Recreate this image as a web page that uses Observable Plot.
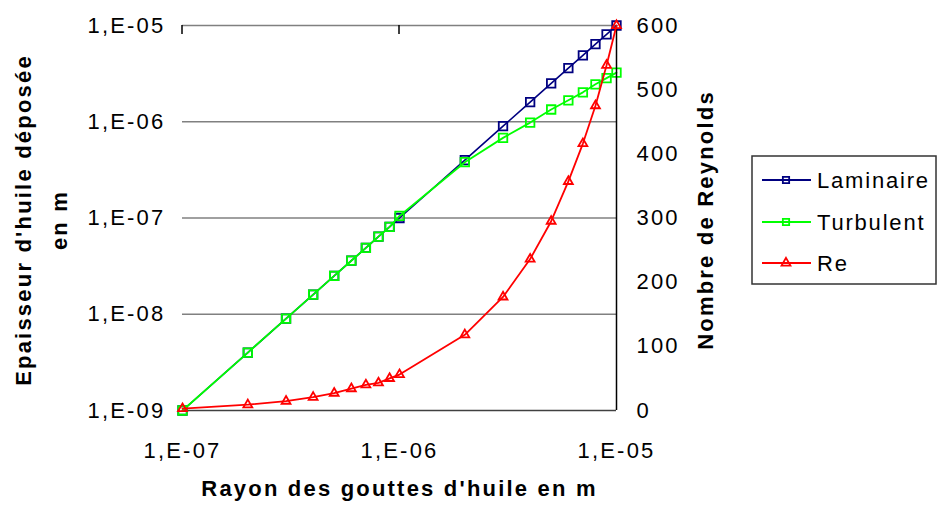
<!DOCTYPE html>
<html><head><meta charset="utf-8">
<script src="https://cdn.jsdelivr.net/npm/d3@7"></script>
<script src="https://cdn.jsdelivr.net/npm/@observablehq/plot@0.6"></script>
<style>
html,body{margin:0;padding:0;background:#fff;}
#chart{position:relative;width:943px;height:508px;}
#chart svg{position:absolute;left:0;top:0;}
</style></head><body><div id="chart"></div>
<script>
// ---- data ----
const radius = [1e-7, 2e-7, 3e-7, 4e-7, 5e-7, 6e-7, 7e-7, 8e-7, 9e-7, 1e-6,
                2e-6, 3e-6, 4e-6, 5e-6, 6e-6, 7e-6, 8e-6, 9e-6, 1e-5];
const laminaire = [1e-9, 4e-9, 9e-9, 1.6e-8, 2.5e-8, 3.6e-8, 4.9e-8, 6.4e-8, 8.1e-8, 1e-7,
                   4e-7, 9e-7, 1.6e-6, 2.5e-6, 3.6e-6, 4.9e-6, 6.4e-6, 8.1e-6, 1e-5];
const turbulent = [1e-9, 4e-9, 9e-9, 1.6e-8, 2.5e-8, 3.6e-8, 4.9e-8, 6.4e-8, 8.1e-8, 1.05e-7,
                   3.8e-7, 6.8e-7, 9.8e-7, 1.34e-6, 1.67e-6, 2.02e-6, 2.45e-6, 2.84e-6, 3.24e-6];
const reynolds = [3, 9, 14.5, 20.7, 27, 34, 40, 43, 50, 56,
                  118, 177, 236, 295, 357, 416, 475, 538, 600];

const xTicks = [1e-7, 1e-6, 1e-5];
const xLabels = ["1,E-07", "1,E-06", "1,E-05"];
const yLeftTicks = [1e-9, 1e-8, 1e-7, 1e-6, 1e-5];
const yLeftLabels = ["1,E-09", "1,E-08", "1,E-07", "1,E-06", "1,E-05"];
const yRightTicks = [0, 100, 200, 300, 400, 500, 600];

const seriesNames = ["Laminaire", "Turbulent", "Re"];
const seriesColors = ["#000080", "#00ff00", "#ff0000"];
const seriesSymbols = ["square", "square", "triangle"];

const xTitle = "Rayon des gouttes d'huile en m";
const yLeftTitle = ["Epaisseur d'huile déposée", "en m"];
const yRightTitle = "Nombre de Reynolds";

// ---- layout ----
const W = 943, H = 508;
const M = {top: 25, right: 327, bottom: 98, left: 182};
const FONT = "'Liberation Sans', Arial, sans-serif";
const FS = 22;
const baseStyle = {fontFamily: FONT, fontSize: FS + "px", letterSpacing: "2.2px", overflow: "visible", color: "#000"};

const rows = radius.map((r, i) => ({r, lam: laminaire[i], turb: turbulent[i], re: reynolds[i]}));

const p1 = Plot.plot({
  width: W, height: H,
  marginTop: M.top, marginRight: M.right, marginBottom: M.bottom, marginLeft: M.left,
  style: {...baseStyle, background: "white"},
  x: {type: "log", domain: [1e-7, 1e-5]},
  y: {type: "log", domain: [1e-9, 1e-5]},
  marks: [
    Plot.ruleY(yLeftTicks.slice(1), {stroke: "#808080", strokeWidth: 1.5}),
    Plot.ruleY([yLeftTicks[0]], {stroke: "#404040", strokeWidth: 1.5}),
    Plot.axisY({ticks: yLeftTicks, tickFormat: d => yLeftLabels[yLeftTicks.indexOf(d)],
                tickSize: 0, tickPadding: 17, label: null, fontSize: FS}),
    Plot.axisX({ticks: xTicks, tickFormat: d => xLabels[xTicks.indexOf(d)],
                tickSize: 0, tickPadding: 32, label: null, fontSize: FS}),
    Plot.line(rows, {x: "r", y: "lam", stroke: seriesColors[0], strokeWidth: 1.6}),
    Plot.dot(rows, {x: "r", y: "lam", symbol: seriesSymbols[0], r: 4.8, stroke: seriesColors[0], strokeWidth: 1.8, fill: "none"}),
    Plot.line(rows, {x: "r", y: "turb", stroke: seriesColors[1], strokeWidth: 1.8}),
    Plot.dot(rows, {x: "r", y: "turb", symbol: seriesSymbols[1], r: 4.8, stroke: seriesColors[1], strokeWidth: 1.8, fill: "none"}),
    Plot.text([yLeftTitle[0]], {frameAnchor: "left", textAnchor: "middle", rotate: -90, dx: -159, dy: 2, fontWeight: "bold", fontSize: FS}),
    Plot.text([yLeftTitle[1]], {frameAnchor: "left", textAnchor: "middle", rotate: -90, dx: -123, dy: 2, fontWeight: "bold", fontSize: FS}),
    Plot.text([xTitle], {frameAnchor: "bottom", dy: 85, fontWeight: "bold", fontSize: FS})
  ]
});

const p2 = Plot.plot({
  width: W, height: H,
  marginTop: M.top, marginRight: M.right, marginBottom: M.bottom, marginLeft: M.left,
  style: {...baseStyle, background: "transparent"},
  x: {type: "log", domain: [1e-7, 1e-5], axis: null},
  y: {domain: [0, 600], axis: null},
  marks: [
    Plot.ruleX([xTicks[2]], {stroke: "#000", strokeWidth: 1.5}),
    Plot.axisY({anchor: "right", ticks: yRightTicks, tickSize: 0, tickPadding: 20, label: null, fontSize: FS}),
    Plot.line(rows, {x: "r", y: "re", stroke: seriesColors[2], strokeWidth: 1.8}),
    Plot.dot(rows, {x: "r", y: "re", symbol: seriesSymbols[2], r: 3.3, stroke: seriesColors[2], strokeWidth: 1.8, fill: "none"}),
    Plot.text([yRightTitle], {frameAnchor: "right", textAnchor: "middle", rotate: -90, dx: 89, dy: 2, fontWeight: "bold", fontSize: FS})
  ]
});

const chart = document.getElementById("chart");
chart.appendChild(p1);
chart.appendChild(p2);

// small tick marks hanging from the top edge at the x ticks
const xs = p1.scale("x");
const s1 = d3.select(p1);
xTicks.slice(0, 2).forEach(t => {
  const px = xs.apply(t);
  s1.append("line").attr("x1", px).attr("x2", px).attr("y1", M.top).attr("y2", M.top + 9)
    .attr("stroke", "#000").attr("stroke-width", 1.5);
});

// legend
const leg = d3.select(chart).append("svg").attr("width", W).attr("height", H)
  .style("font-family", FONT).style("font-size", FS + "px").style("letter-spacing", "1.8px");
leg.append("rect").attr("x", 752).attr("y", 156).attr("width", 184).attr("height", 128)
  .attr("fill", "white").attr("stroke", "#333").attr("stroke-width", 1.5);
const rowY = [180, 222, 263];
seriesNames.forEach((name, i) => {
  const g = leg.append("g");
  g.append("line").attr("x1", 762).attr("x2", 811).attr("y1", rowY[i]).attr("y2", rowY[i])
    .attr("stroke", seriesColors[i]).attr("stroke-width", 1.8);
  const sym = d3.symbol(seriesSymbols[i] === "square" ? d3.symbolSquare : d3.symbolTriangle,
                        seriesSymbols[i] === "square" ? Math.PI * 4.8 * 4.8 * 0.55 : Math.PI * 3.3 * 3.3);
  g.append("path").attr("d", sym()).attr("transform", `translate(786,${rowY[i]})`)
    .attr("fill", "none").attr("stroke", seriesColors[i]).attr("stroke-width", 1.8);
  g.append("text").attr("x", 817).attr("y", rowY[i]).attr("dy", "0.35em").text(name);
});
</script></body></html>
